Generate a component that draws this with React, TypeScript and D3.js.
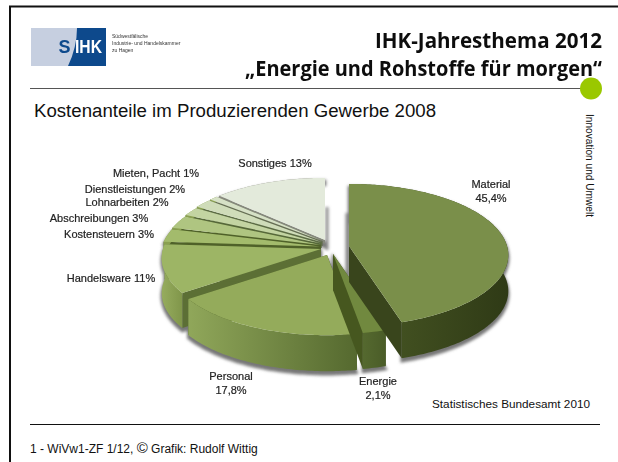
import React from "react";
import * as d3 from "d3";

const categories = ["Material", "Energie", "Personal", "Handelsware", "Kostensteuern", "Abschreibungen", "Lohnarbeiten", "Dienstleistungen", "Mieten, Pacht", "Sonstiges"];
const values = [45.4, 2.1, 17.8, 11, 3, 3, 2, 2, 1, 13];
const labelLines = [["Material", "45,4%"], ["Energie", "2,1%"], ["Personal", "17,8%"], ["Handelsware 11%"], ["Kostensteuern 3%"], ["Abschreibungen 3%"], ["Lohnarbeiten 2%"], ["Dienstleistungen 2%"], ["Mieten, Pacht 1%"], ["Sonstiges 13%"]];
const topColors = ["#7a8f4a", "#71893f", "#94ab5b", "#9db565", "#a3bb6c", "#afc581", "#c3d4a2", "#cfdcb9", "#d6e1c6", "#e3eadb"];
const radialWalls = ["#39451c", "#46571f", "#4d5f28", "#5c6f35", "#4f6129", "#4f6129", "#56683a", "#5c6c45", "#666e55", "#85887c"];
const outerLeft = ["#4a5a25", "#55692f", "#90a75a", "#96ac5e", "#8aa050", "#8aa050", "#8aa050", "#8aa050", "#8aa050", "#8a8a80"];
const outerRight = ["#2f3a16", "#4a5c28", "#55692f", "#80964a", "#8aa050", "#8aa050", "#8aa050", "#8aa050", "#8aa050", "#8a8a80"];

const labelPos: [number, number][] = [[491, 188], [378, 385], [231, 380], [111, 282], [109, 238], [99, 222], [127, 206], [135, 193], [156, 177], [275, 167]];
const apexes: [number, number][] = [[349, 246], [333, 254], [327, 255], [321, 249], [320, 246.5], [320.5, 245], [321, 243.5], [321.5, 242], [322.5, 241], [325, 240]];
const depths = [36, 36, 36, 35, 12, 10, 8, 6, 5, 4];

const R = 158, S = 70, K = 0.127;
function project(a: number, apex: [number, number]): [number, number] {
  const u = Math.sin(a), v = Math.cos(a), w = 1 + K * v;
  return [apex[0] + (R * u) / w, apex[1] - (S * v) / w];
}
const line = d3.line();
const pie = d3.pie<number>().sort(null).startAngle(0).endAngle(2 * Math.PI);
const arcs = pie(values);
const textFont = "Liberation Sans, Arial, sans-serif";
const order = [9, 8, 7, 6, 5, 4, 3, 2, 1, 0];

function Slice({ i }: { i: number }) {
  const d = arcs[i];
  const apex = apexes[i];
  const dp = depths[i];
  const n = Math.max(8, Math.ceil((d.endAngle - d.startAngle) * 60));
  const rim = d3.range(n + 1).map((k) => project(d.startAngle + ((d.endAngle - d.startAngle) * k) / n, apex));
  const down = (p: [number, number]): [number, number] => [p[0], p[1] + dp];
  const top = line([apex, ...rim]) + "Z";
  const outer = line([...rim, ...rim.map(down).reverse()]) + "Z";
  const face = (p: [number, number]) => line([apex, p, down(p), down(apex)]) + "Z";
  return (
    <g>
      <path d={face(rim[0])} fill={radialWalls[i]} />
      <path d={face(rim[n])} fill={radialWalls[i]} />
      <path d={outer} fill={`url(#wall${i})`} />
      <path d={top} fill={topColors[i]} />
    </g>
  );
}

function Shadow({ i }: { i: number }) {
  const d = arcs[i];
  const apex = apexes[i];
  const dp = depths[i];
  const n = Math.ceil((d.endAngle - d.startAngle) * 60);
  const rim = d3.range(n + 1).map((k) => project(d.startAngle + ((d.endAngle - d.startAngle) * k) / n, apex));
  const pts = [apex, ...rim, ...rim.map((p) => [p[0], p[1] + dp] as [number, number]).reverse(), [apex[0], apex[1] + dp] as [number, number]];
  return <path d={line(pts) + "Z"} fill="#777" stroke="#777" strokeWidth={2.5} transform="translate(0,3)" />;
}

export default function App() {
  return (
    <svg width={618} height={462} style={{ position: "absolute", left: 0, top: 0 }} fontFamily={textFont}>
      <defs>
        <filter id="soft" x="-10%" y="-10%" width="120%" height="120%"><feGaussianBlur stdDeviation="1.5" /></filter>
        <filter id="txt" x="-5%" y="-20%" width="110%" height="140%"><feGaussianBlur stdDeviation="0.35" /></filter>
        <filter id="logo" x="-5%" y="-5%" width="110%" height="110%"><feGaussianBlur stdDeviation="0.4" /></filter>
        {categories.map((c, i) => (
          <linearGradient key={c} id={`wall${i}`} gradientUnits="objectBoundingBox" x1="0" x2="1" y1="0" y2="0">
            <stop offset="0" stopColor={outerLeft[i]} />
            <stop offset="1" stopColor={outerRight[i]} />
          </linearGradient>
        ))}
      </defs>
      <rect width={618} height={462} fill="#fff" />
      <path d="M10,462V6.500H618" fill="none" stroke="#111" strokeWidth={2} />

      <g filter="url(#logo)">
        <rect x={31} y={28} width={75} height={38} fill="#c6cfe0" />
        <path d="M77,28H106V66H68Q77,47 77,28Z" fill="#0f4a8c" />
        <text x={58.500} y={53} fontSize={18} fontWeight={700} fill="#0f4a8c">S</text>
        <text x={75} y={53} fontSize={18} fontWeight={700} fill="#fff" textLength={27} lengthAdjust="spacingAndGlyphs">IHK</text>
        <text x={112} y={38} fontSize={5} fill="#333">Südwestfälische</text>
        <text x={112} y={45} fontSize={5} fill="#333">Industrie- und Handelskammer</text>
        <text x={112} y={52} fontSize={5} fill="#333">zu Hagen</text>
      </g>

      <g fontFamily="Open Sans, sans-serif" fontWeight={700} fontSize={21} fill="#111" textAnchor="end" filter="url(#txt)">
        <text x={602} y={48} textLength={227} lengthAdjust="spacingAndGlyphs">IHK-Jahresthema 2012</text>
        <text x={602} y={76} textLength={357} lengthAdjust="spacingAndGlyphs">„Energie und Rohstoffe für morgen“</text>
      </g>
      <line x1={30} x2={582} y1={88.500} y2={88.500} stroke="#555" strokeWidth={1.200} />
      <circle cx={591} cy={88.500} r={11} fill="#9ac800" />
      <text x={34} y={117} fontSize={18} fill="#111" textLength={402} lengthAdjust="spacingAndGlyphs">Kostenanteile im Produzierenden Gewerbe 2008</text>
      <text transform="translate(586,114) rotate(90)" fontSize={10.500} fill="#111" textLength={103} lengthAdjust="spacingAndGlyphs">Innovation und Umwelt</text>

      <g filter="url(#soft)">{order.filter((i) => depths[i] > 10 || i === 9).map((i) => <Shadow key={i} i={i} />)}
        <line x1={apexes[9][0] + 2} x2={apexes[9][0] + 2} y1={apexes[9][1] - 33} y2={apexes[9][1] + 10} stroke="#888" strokeWidth={3} />
        <line x1={apexes[0][0] - 2} x2={apexes[0][0] - 2} y1={apexes[0][1] - 33} y2={apexes[0][1] + 30} stroke="#888" strokeWidth={3} />
      </g>
      {order.map((i) => <Slice key={i} i={i} />)}

      <g fontSize={11} fill="#222" stroke="#222" strokeWidth={0.2} textAnchor="middle" filter="url(#txt)">
        {labelLines.map((ls, i) => (
          <text key={categories[i]} x={labelPos[i][0]} y={labelPos[i][1]}>
            {ls.map((s, j) => <tspan key={j} x={labelPos[i][0]} dy={j ? 13.500 : 0}>{s}</tspan>)}
          </text>
        ))}
      </g>

      <text x={432} y={408} fontSize={11.500} fill="#111" textLength={158} lengthAdjust="spacingAndGlyphs">Statistisches Bundesamt 2010</text>
      <line x1={30} x2={600} y1={424.500} y2={424.500} stroke="#111" strokeWidth={1} />
      <text x={30} y={453} fontSize={12} fill="#111">1 - WiVw1-ZF 1/12, <tspan fontSize={15}>©</tspan> Grafik: Rudolf Wittig</text>
    </svg>
  );
}
